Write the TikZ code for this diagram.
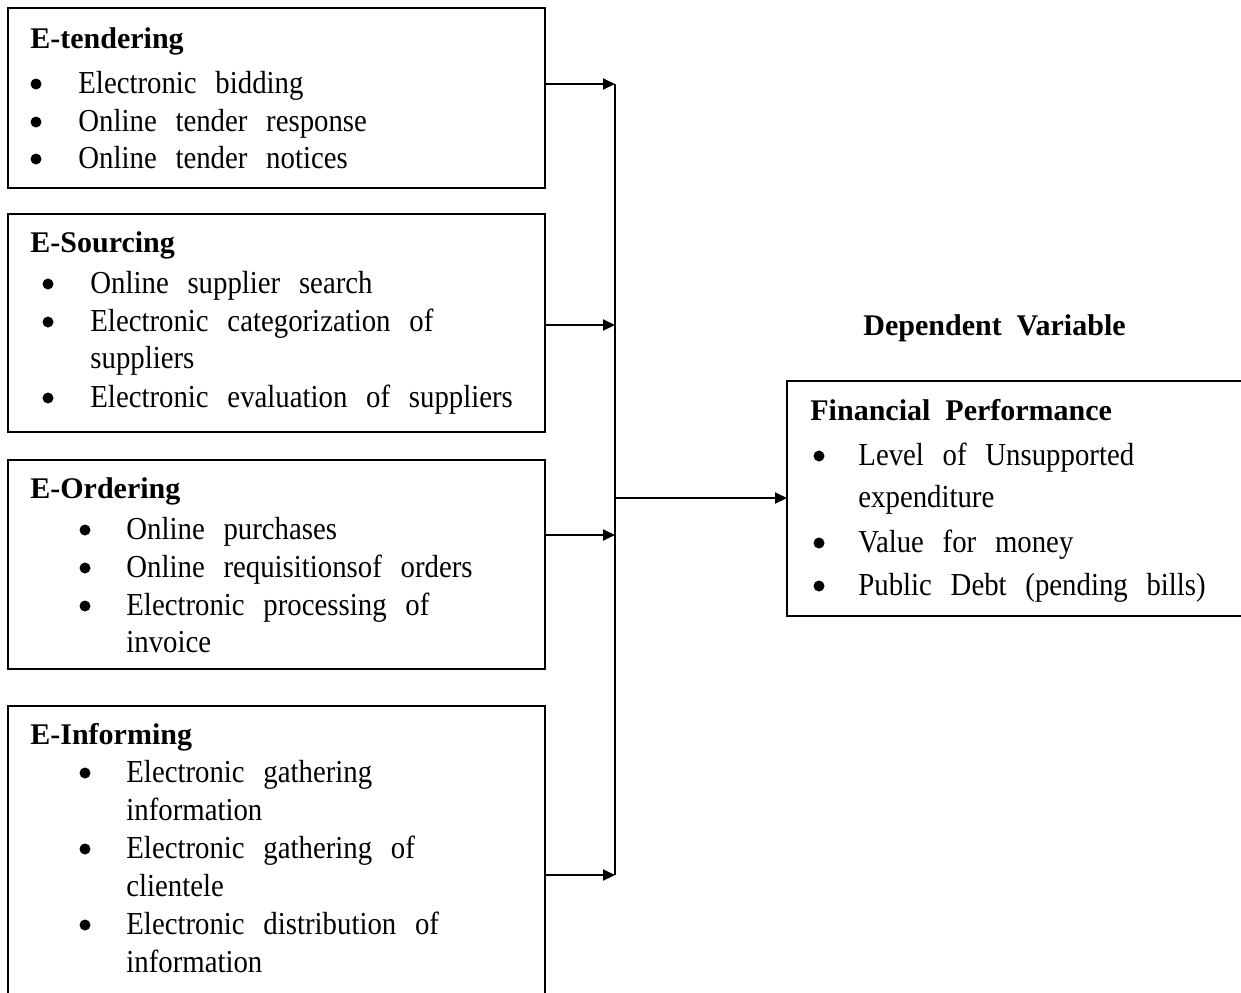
\documentclass[tikz,border=0pt]{standalone}
\usepackage{fontspec}
\setmainfont{Liberation Serif}[FakeStretch=0.9, WordSpace=2.6]
\newfontfamily\ttlfont{Liberation Serif}[WordSpace=2]
\usetikzlibrary{arrows.meta}
\begin{document}
\begin{tikzpicture}[x=0.5pt,y=-0.5pt,
  box/.style={draw, line width=1pt, anchor=north west, inner sep=0pt, outer sep=0pt},
  txt/.style={anchor=base west, inner sep=0pt, font=\fontsize{16}{19}\selectfont},
  ttl/.style={anchor=base west, inner sep=0pt, font=\fontsize{15}{18}\ttlfont\bfseries},
  bul/.style={circle, fill, inner sep=0pt, minimum size=5.5pt},
  arr/.style={line width=1pt, -{Triangle[length=6pt,width=5.5pt]}},
  bus/.style={line width=1pt}]
\useasboundingbox (0,0) rectangle (1241,992);

% boxes
\node[box, minimum width=268.5pt, minimum height=90pt] (ten) at (8,8) {};
\node[box, minimum width=268.5pt, minimum height=109pt] (src) at (8,214) {};
\node[box, minimum width=268.5pt, minimum height=104.5pt] (ord) at (8,460) {};
\node[box, minimum width=268.5pt, minimum height=160pt] (inf) at (8,706) {};
\node[box, minimum width=240pt, minimum height=117.5pt] (fp) at (787,381) {};

% E-tendering
\node[ttl] (t0) at (30,48) {E-tendering};
\node[bul] (tb1) at (36,84) {};
\node[txt] (t1) at (78,93) {Electronic bidding};
\node[bul] (tb2) at (36,122) {};
\node[txt] (t2) at (78,131) {Online tender response};
\node[bul] (tb3) at (36,159) {};
\node[txt] (t3) at (78,168) {Online tender notices};

% E-Sourcing
\node[ttl] (s0) at (30,252) {E-Sourcing};
\node[bul] (sb1) at (48,284) {};
\node[txt] (s1) at (90,293) {Online supplier search};
\node[bul] (sb2) at (48,322) {};
\node[txt] (s2) at (90,331) {Electronic categorization of};
\node[txt] (s3) at (90,368) {suppliers};
\node[bul] (sb4) at (48,398) {};
\node[txt] (s4) at (90,407) {Electronic evaluation of suppliers};

% E-Ordering
\node[ttl] (o0) at (30,498) {E-Ordering};
\node[bul] (ob1) at (85,530) {};
\node[txt] (o1) at (126,539) {Online purchases};
\node[bul] (ob2) at (85,568) {};
\node[txt] (o2) at (126,577) {Online requisitionsof orders};
\node[bul] (ob3) at (85,606) {};
\node[txt] (o3) at (126,615) {Electronic processing of};
\node[txt] (o4) at (126,652) {invoice};

% E-Informing
\node[ttl] (i0) at (30,744) {E-Informing};
\node[bul] (ib1) at (85,773) {};
\node[txt] (i1) at (126,782) {Electronic gathering};
\node[txt] (i2) at (126,820) {information};
\node[bul] (ib3) at (85,849) {};
\node[txt] (i3) at (126,858) {Electronic gathering of};
\node[txt] (i4) at (126,896) {clientele};
\node[bul] (ib5) at (85,925) {};
\node[txt] (i5) at (126,934) {Electronic distribution of};
\node[txt] (i6) at (126,972) {information};

% Dependent variable
\node[ttl] (dv) at (863,335) {Dependent Variable};
\node[ttl] (f0) at (810,420) {Financial Performance};
\node[bul] (fb1) at (819,456) {};
\node[txt] (f1) at (858,465) {Level of Unsupported};
\node[txt] (f2) at (858,507) {expenditure};
\node[bul] (fb3) at (819,543) {};
\node[txt] (f3) at (858,552) {Value for money};
\node[bul] (fb4) at (819,586) {};
\node[txt] (f4) at (858,595) {Public Debt (pending bills)};

% bus and connectors
\coordinate (b1) at (615,84);
\coordinate (b2) at (615,325);
\coordinate (b3) at (615,535);
\coordinate (b4) at (615,875);
\coordinate (bm) at (615,498);
\draw[bus] (b1) -- (b4);
\draw[arr] (ten.east |- b1) -- (b1);
\draw[arr] (src.east |- b2) -- (b2);
\draw[arr] (ord.east |- b3) -- (b3);
\draw[arr] (inf.east |- b4) -- (b4);
\draw[arr] (bm) -- (fp.west |- bm);
\end{tikzpicture}
\end{document}
